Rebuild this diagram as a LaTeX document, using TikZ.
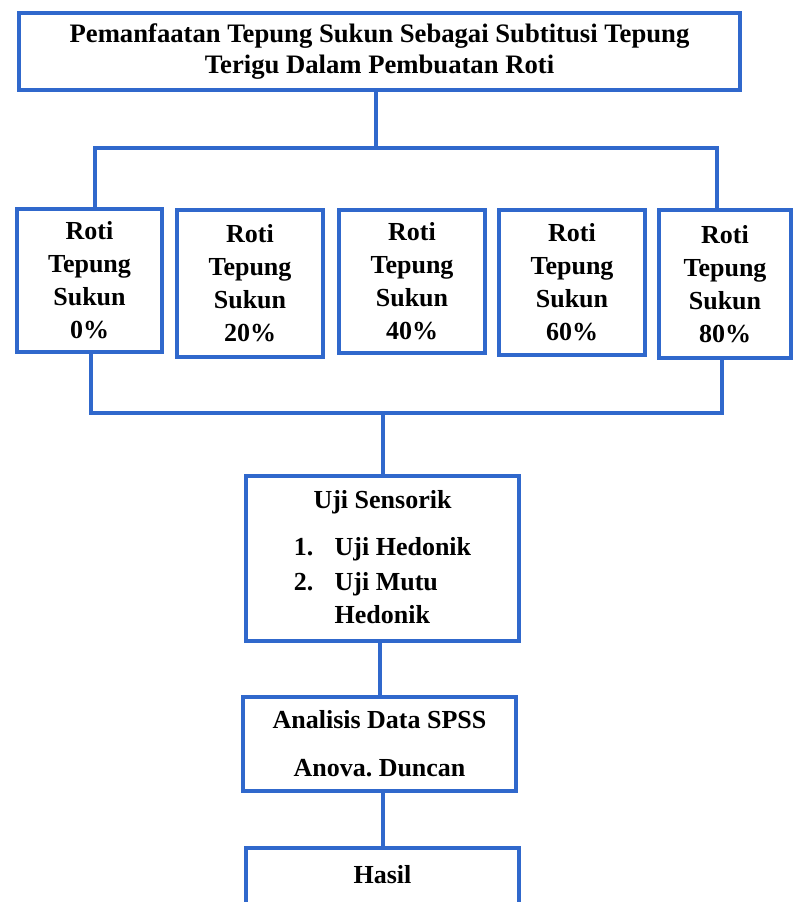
\documentclass[tikz,border=0pt]{standalone}
\usepackage{fontspec}
\setmainfont{Liberation Serif}
\usepackage{tikz}
\usetikzlibrary{positioning,calc}
\definecolor{flowblue}{HTML}{3068CC}

\begin{document}
\begin{tikzpicture}[x=0.75pt,y=-0.75pt,every node/.style={font=\fontsize{19.5}{24.75}\selectfont\bfseries}]
    \tikzstyle{box}=[rectangle,draw=flowblue,line width=3pt,inner sep=0pt,align=center,fill=white];
    \tikzstyle{link}=[draw=flowblue,line width=3pt];
    \path[use as bounding box,clip] (0,0) rectangle (795,902);
    \node[box,minimum width=721*0.75pt,minimum height=77*0.75pt,font=\fontsize{20}{23.5}\selectfont\bfseries] (judul) at (379.5,51.5)
       {Pemanfaatan Tepung Sukun Sebagai Subtitusi Tepung\\Terigu Dalam Pembuatan Roti};
    \node[box,minimum width=145*0.75pt,minimum height=143*0.75pt] (r0)  at (89.5,280.5) {Roti\\Tepung\\Sukun\\0\%};
    \node[box,minimum width=146*0.75pt,minimum height=147*0.75pt] (r20) at (250,283.5)  {Roti\\Tepung\\Sukun\\20\%};
    \node[box,minimum width=146*0.75pt,minimum height=143*0.75pt] (r40) at (412,281.5)  {Roti\\Tepung\\Sukun\\40\%};
    \node[box,minimum width=146*0.75pt,minimum height=145*0.75pt] (r60) at (572,282.5)  {Roti\\Tepung\\Sukun\\60\%};
    \node[box,minimum width=132*0.75pt,minimum height=148*0.75pt] (r80) at (725,284)    {Roti\\Tepung\\Sukun\\80\%};
    \node[box,minimum width=273*0.75pt,minimum height=165*0.75pt] (uji) at (382.5,558.5)
       {Uji Sensorik\\[13pt]\begin{tabular}{@{}l@{\hspace{16pt}}l@{}}1. & Uji Hedonik\\[1.5pt]2. & Uji Mutu\\ & Hedonik\end{tabular}\\[-6pt]};
    \node[box,minimum width=273*0.75pt,minimum height=94*0.75pt] (spss) at (379.5,744)
       {Analisis Data SPSS\\[11.25pt]Anova.\ Duncan};
    \node[box,minimum width=273*0.75pt,text height=35*0.75pt,text depth=60*0.75pt,anchor=north] (hasil) at (382.5,846) {Hasil};
    % cabang ke lima perlakuan
    \coordinate (atas) at (376,148);
    \coordinate (bawah) at (382.5,413);
    \draw[link] (judul.south -| atas) -- (atas);
    \draw[link] ($(r0.north)+(5.5,0)$) |- (atas) -| ($(r80.north)+(-8,0)$);
    \draw[link] ($(r0.south)+(1.5,0)$) |- (bawah) -| ($(r80.south)+(-3,0)$);
    \draw[link] (bawah) -- (uji.north);
    \draw[link] (spss.north) -- (spss.north |- uji.south);
    \draw[link] (hasil.north) -- (hasil.north |- spss.south);
\end{tikzpicture}
\end{document}
